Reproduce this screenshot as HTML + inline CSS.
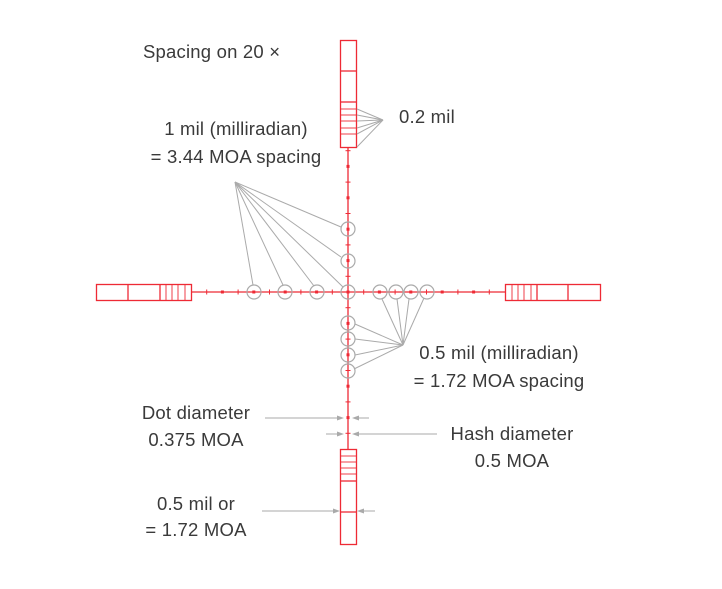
<!DOCTYPE html>
<html><head><meta charset="utf-8"><style>
html,body{margin:0;padding:0;background:#fff;}
svg{display:block;}
text{font-family:"Liberation Sans",sans-serif;font-size:18.5px;fill:#3a3a3a;letter-spacing:0.2px;}
</style></head><body>
<svg width="722" height="589" viewBox="0 0 722 589" xmlns="http://www.w3.org/2000/svg">
<g stroke="#ee2a35" fill="none" stroke-width="1.3">
<line x1="191" y1="292" x2="505" y2="292"/>
<line x1="348" y1="147" x2="348" y2="449"/>
<rect x="340.5" y="40.5" width="16" height="107"/>
<line x1="340" y1="71" x2="356" y2="71"/><line x1="340" y1="102" x2="356" y2="102"/>
<g stroke-width="0.9"><line x1="340" y1="109" x2="356" y2="109"/><line x1="340" y1="115" x2="356" y2="115"/><line x1="340" y1="121" x2="356" y2="121"/><line x1="340" y1="128" x2="356" y2="128"/><line x1="340" y1="134" x2="356" y2="134"/></g>
<rect x="340.5" y="449.5" width="16" height="95"/>
<line x1="340" y1="481" x2="356" y2="481"/><line x1="340" y1="512" x2="356" y2="512"/>
<g stroke-width="0.9"><line x1="340" y1="456" x2="356" y2="456"/><line x1="340" y1="462" x2="356" y2="462"/><line x1="340" y1="468" x2="356" y2="468"/><line x1="340" y1="474" x2="356" y2="474"/></g>
<rect x="96.5" y="284.5" width="95" height="16"/>
<line x1="128" y1="284" x2="128" y2="300"/><line x1="160" y1="284" x2="160" y2="300"/>
<g stroke-width="0.9"><line x1="166" y1="284" x2="166" y2="300"/><line x1="172" y1="284" x2="172" y2="300"/><line x1="178" y1="284" x2="178" y2="300"/><line x1="185" y1="284" x2="185" y2="300"/></g>
<rect x="505.5" y="284.5" width="95" height="16"/>
<line x1="537" y1="284" x2="537" y2="300"/><line x1="568" y1="284" x2="568" y2="300"/>
<g stroke-width="0.9"><line x1="512" y1="284" x2="512" y2="300"/><line x1="518" y1="284" x2="518" y2="300"/><line x1="524" y1="284" x2="524" y2="300"/><line x1="531" y1="284" x2="531" y2="300"/></g>
<g stroke-width="1">
<line x1="332.3" y1="289.5" x2="332.3" y2="294.5"/><line x1="300.9" y1="289.5" x2="300.9" y2="294.5"/><line x1="269.5" y1="289.5" x2="269.5" y2="294.5"/><line x1="238.1" y1="289.5" x2="238.1" y2="294.5"/><line x1="206.7" y1="289.5" x2="206.7" y2="294.5"/>
<line x1="363.7" y1="289.5" x2="363.7" y2="294.5"/><line x1="395.1" y1="289.5" x2="395.1" y2="294.5"/><line x1="426.5" y1="289.5" x2="426.5" y2="294.5"/><line x1="457.9" y1="289.5" x2="457.9" y2="294.5"/><line x1="489.3" y1="289.5" x2="489.3" y2="294.5"/>
<line y1="276.3" x1="345.5" y2="276.3" x2="350.5"/><line y1="244.9" x1="345.5" y2="244.9" x2="350.5"/><line y1="213.5" x1="345.5" y2="213.5" x2="350.5"/><line y1="182.1" x1="345.5" y2="182.1" x2="350.5"/><line y1="150.7" x1="345.5" y2="150.7" x2="350.5"/>
<line y1="307.7" x1="345.5" y2="307.7" x2="350.5"/><line y1="339.1" x1="345.5" y2="339.1" x2="350.5"/><line y1="370.5" x1="345.5" y2="370.5" x2="350.5"/><line y1="401.9" x1="345.5" y2="401.9" x2="350.5"/><line y1="433.3" x1="345.5" y2="433.3" x2="350.5"/>
</g>
</g>
<g fill="#ee2a35">
<rect x="315.1" y="290.5" width="3" height="3"/><rect x="283.7" y="290.5" width="3" height="3"/><rect x="252.3" y="290.5" width="3" height="3"/><rect x="220.9" y="290.5" width="3" height="3"/>
<rect x="377.9" y="290.5" width="3" height="3"/><rect x="409.3" y="290.5" width="3" height="3"/><rect x="440.7" y="290.5" width="3" height="3"/><rect x="472.1" y="290.5" width="3" height="3"/>
<rect x="346.5" y="259.1" width="3" height="3"/><rect x="346.5" y="227.7" width="3" height="3"/><rect x="346.5" y="196.3" width="3" height="3"/><rect x="346.5" y="164.9" width="3" height="3"/>
<rect x="346.5" y="321.9" width="3" height="3"/><rect x="346.5" y="353.3" width="3" height="3"/><rect x="346.5" y="384.7" width="3" height="3"/><rect x="346.5" y="416.1" width="3" height="3"/>
<rect x="346.5" y="290.5" width="3" height="3"/>
</g>
<g stroke="#aaa" fill="none" stroke-width="1.2">
<circle cx="254" cy="292" r="7"/><circle cx="285" cy="292" r="7"/><circle cx="317" cy="292" r="7"/><circle cx="348" cy="292" r="7"/>
<circle cx="380" cy="292" r="7"/><circle cx="396" cy="292" r="7"/><circle cx="411" cy="292" r="7"/><circle cx="427" cy="292" r="7"/>
<circle cx="348" cy="229" r="7"/><circle cx="348" cy="261" r="7"/>
<circle cx="348" cy="323" r="7"/><circle cx="348" cy="339" r="7"/><circle cx="348" cy="355" r="7"/><circle cx="348" cy="371" r="7"/>
</g>
<g stroke="#aaa" stroke-width="1">
<line x1="235" y1="182" x2="253" y2="285"/><line x1="235" y1="182" x2="283" y2="285"/><line x1="235" y1="182" x2="314" y2="286"/><line x1="235" y1="182" x2="343" y2="287"/><line x1="235" y1="182" x2="341" y2="257"/><line x1="235" y1="182" x2="341" y2="227"/>
<line x1="403" y1="345" x2="382" y2="299"/><line x1="403" y1="345" x2="397" y2="299"/><line x1="403" y1="345" x2="409" y2="299"/><line x1="403" y1="345" x2="424" y2="298"/>
<line x1="403" y1="345" x2="355" y2="324"/><line x1="403" y1="345" x2="355" y2="339"/><line x1="403" y1="345" x2="355" y2="355"/><line x1="403" y1="345" x2="354" y2="369"/>
<line x1="383" y1="120" x2="357" y2="109"/><line x1="383" y1="120" x2="357" y2="115"/><line x1="383" y1="120" x2="357" y2="121"/><line x1="383" y1="120" x2="357" y2="128"/><line x1="383" y1="120" x2="357" y2="134"/><line x1="383" y1="120" x2="357" y2="147"/>
<line x1="265" y1="418" x2="340" y2="418"/><line x1="355" y1="418" x2="369" y2="418"/>
<line x1="326" y1="434" x2="340" y2="434"/><line x1="355" y1="434" x2="437" y2="434"/>
<line x1="262" y1="511" x2="336" y2="511"/><line x1="360" y1="511" x2="375" y2="511"/>
</g>
<g fill="#aaa">
<polygon points="344,418 337,415.5 337,420.5"/><polygon points="352,418 359,415.5 359,420.5"/>
<polygon points="344,434 337,431.5 337,436.5"/><polygon points="352,434 359,431.5 359,436.5"/>
<polygon points="340,511 333,508.5 333,513.5"/><polygon points="357,511 364,508.5 364,513.5"/>
</g>
<text x="143" y="58">Spacing on 20 ×</text>
<text x="399" y="123">0.2 mil</text>
<text x="236" y="135" text-anchor="middle">1 mil (milliradian)</text>
<text x="236" y="163" text-anchor="middle">= 3.44 MOA spacing</text>
<text x="499" y="359" text-anchor="middle">0.5 mil (milliradian)</text>
<text x="499" y="387" text-anchor="middle">= 1.72 MOA spacing</text>
<text x="196" y="419" text-anchor="middle">Dot diameter</text>
<text x="196" y="446" text-anchor="middle">0.375 MOA</text>
<text x="512" y="440" text-anchor="middle">Hash diameter</text>
<text x="512" y="467" text-anchor="middle">0.5 MOA</text>
<text x="196" y="510" text-anchor="middle">0.5 mil or</text>
<text x="196" y="536" text-anchor="middle">= 1.72 MOA</text>
</svg>
</body></html>
